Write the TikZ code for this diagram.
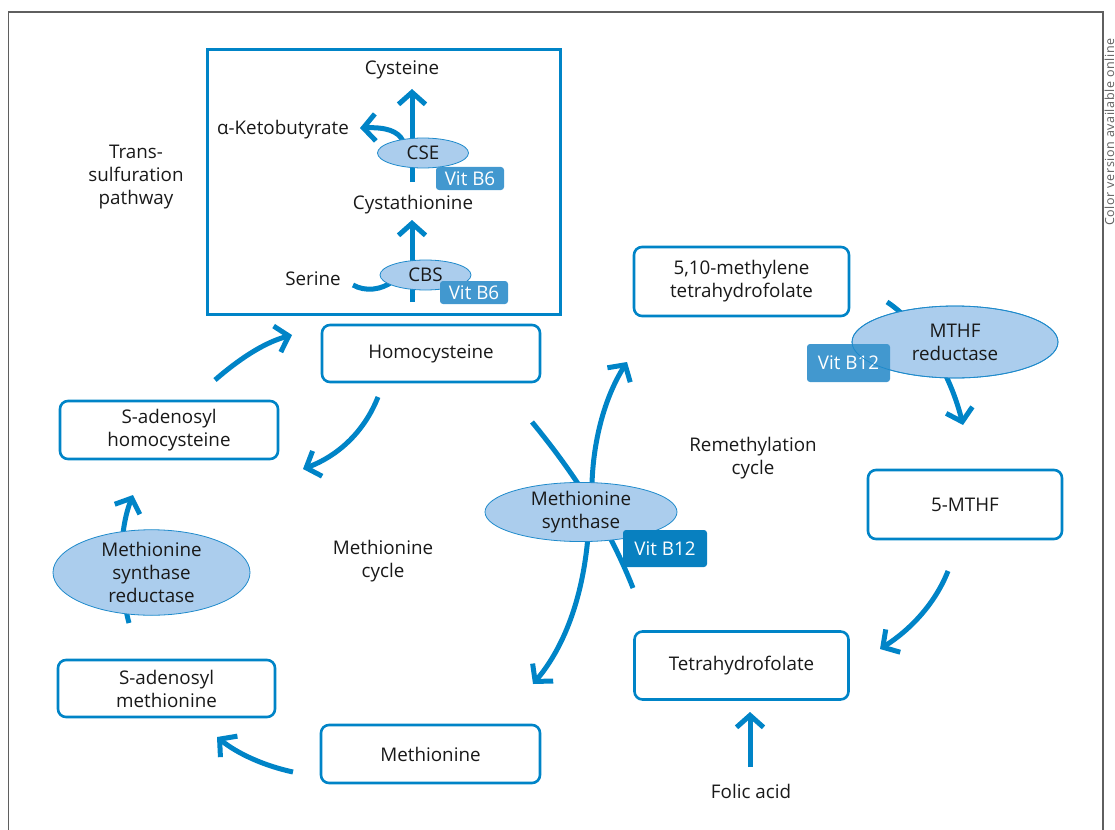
\documentclass[tikz,border=0pt]{standalone}
\usepackage{fontspec}
\setmainfont{Open Sans}
\usetikzlibrary{arrows.meta,shapes.geometric}
\definecolor{mblue}{RGB}{0,132,199}
\definecolor{efill}{RGB}{171,205,237}
\definecolor{eline}{RGB}{30,138,203}
\definecolor{vitl}{RGB}{66,152,207}
\definecolor{vitd}{RGB}{8,128,192}
\definecolor{framec}{RGB}{95,95,95}
\definecolor{txt}{RGB}{25,25,25}
\newcommand\mfs{\fontsize{18.8}{23}\selectfont}
\tikzset{
  pbox/.style={draw=mblue, line width=2.6pt, rounded corners=8pt, fill=white, align=center,
    font=\mfs, text=txt, inner sep=0pt},
  enz/.style={ellipse, draw=eline, line width=0.8pt, fill=efill, align=center, font=\mfs,
    text=txt, inner sep=0pt},
  vitbox/.style={fill=vitl, text=white, rounded corners=3pt, inner sep=0pt, font=\mfs},
  lbl/.style={align=center, font=\mfs, text=txt, inner sep=0pt},
  flow/.style={draw=mblue, line width=5pt, -{Straight Barb[length=12pt,width=27pt]}},
  plain/.style={draw=mblue, line width=5pt},
}
\begin{document}
\begin{tikzpicture}[x=1pt,y=-1pt]
\useasboundingbox (0,0) rectangle (1115,829);
% outer frame
\draw[framec, line width=1.6pt] (8.5,835) -- (8.5,12) -- (1103,12) -- (1103,835);
\node[rotate=90, anchor=south west, font=\fontsize{12.5}{15}\selectfont\addfontfeatures{LetterSpace=5}, text=framec, inner sep=0pt] (color) at (1114.5,226) {Color version available online};

% transsulfuration box
\node[draw=mblue, line width=3pt, minimum width=353pt, minimum height=264pt, inner sep=0pt] (ts) at (383.5,182) {};

% metabolite boxes
\node[pbox, minimum width=218pt, minimum height=57pt] (hcy) at (431,353.5) {Homocysteine};
\node[pbox, minimum width=218pt, minimum height=58pt] (sah) at (169,430) {S-adenosyl\\homocysteine};
\node[pbox, minimum width=217pt, minimum height=57pt] (sam) at (166.5,688.5) {S-adenosyl\\methionine};
\node[pbox, minimum width=219pt, minimum height=58pt] (met) at (430.5,754) {Methionine};
\node[pbox, minimum width=215pt, minimum height=69pt] (methf) at (741.5,281.5) {5,10-methylene\\tetrahydrofolate};
\node[pbox, minimum width=194pt, minimum height=69pt] (mthf) at (965,504.5) {5-MTHF};
\node[pbox, minimum width=214pt, minimum height=68pt] (thf) at (741.5,665.5) {Tetrahydrofolate};

% labels
\node[lbl] (cys) at (402,70) {Cysteine};
\node[lbl] (akb) at (283,130) {α-Ketobutyrate};
\node[lbl] (cysta) at (413,205) {Cystathionine};
\node[lbl] (ser) at (313,279) {Serine};
\node[lbl] (trans) at (136,177) {Trans-\\sulfuration\\pathway};
\node[lbl] (metcyc) at (383,561) {Methionine\\cycle};
\node[lbl] (remcyc) at (753,458) {Remethylation\\cycle};
\node[lbl] (folic) at (751,791) {Folic acid};

% connector end points
\coordinate (c1s) at (412,182); \coordinate (c1e) at (412,89);
\coordinate (c2s) at (403,141); \coordinate (c2e) at (360,128);
\coordinate (c3s) at (412,302); \coordinate (c3e) at (412,220);
\coordinate (c4s) at (353,285); \coordinate (c4e) at (393,281);
\coordinate (c5s) at (215,380); \coordinate (c5e) at (292,335);
\coordinate (c6s) at (378,397); \coordinate (c6e) at (303,469);
\coordinate (c7s) at (129,623); \coordinate (c7e) at (133,495);
\coordinate (c8s) at (293,772); \coordinate (c8e) at (217,737);
\coordinate (c9s) at (532,422); \coordinate (c9e) at (633,588);
\coordinate (c10s) at (592,505); \coordinate (c10e) at (627,362);
\coordinate (c11s) at (589,520); \coordinate (c11e) at (533,684);
\coordinate (c12s) at (887,302); \coordinate (c12e) at (963,425);
\coordinate (c13s) at (948,571); \coordinate (c13e) at (880,649);
\coordinate (c14s) at (750,767); \coordinate (c14e) at (750,712);

% connectors
\draw[flow] (c1s) -- (c1e);
\draw[flow] (c2s) .. controls (398,131) and (386,127) .. (c2e);
\draw[flow] (c3s) -- (c3e);
\draw[plain] (c4s) .. controls (365,292) and (382,290) .. (c4e);
\draw[flow] (c5s) .. controls (238,360) and (263,343) .. (c5e);
\draw[flow] (c6s) .. controls (365,430) and (340,455) .. (c6e);
\draw[flow] (c7s) .. controls (118,582) and (119,530) .. (c7e);
\draw[flow] (c8s) .. controls (265,766) and (238,754) .. (c8e);
\draw[plain] (c9s) .. controls (578,478) and (610,530) .. (c9e);
\draw[flow] (c10s) .. controls (590,450) and (603,400) .. (c10e);
\draw[flow] (c11s) .. controls (586,590) and (566,645) .. (c11e);
\draw[flow] (c12s) .. controls (915,320) and (948,365) .. (c12e);
\draw[flow] (c13s) .. controls (935,604) and (910,630) .. (c13e);
\draw[flow] (c14s) -- (c14e);

% enzymes
\node[enz, minimum width=91pt, minimum height=30pt] (cse) at (423,153) {CSE};
\node[enz, minimum width=91pt, minimum height=30pt] (cbs) at (425.5,275) {CBS};
\node[enz, minimum width=197pt, minimum height=69pt] (msr) at (151.5,572.5) {Methionine\\synthase\\reductase};
\node[enz, minimum width=192pt, minimum height=54pt] (ms) at (581,512) {Methionine\\synthase};
\node[enz, minimum width=206pt, minimum height=72pt] (mthfr) at (955,342) {MTHF\\reductase};

% vitamins
\node[vitbox, minimum width=68pt, minimum height=23pt] (b6a) at (470,178.5) {Vit B6};
\node[vitbox, minimum width=68pt, minimum height=23pt] (b6b) at (474,292.5) {Vit B6};
\node[vitbox, fill=vitd, minimum width=84pt, minimum height=37pt] (b12a) at (665,548.5) {Vit B12};
\node[vitbox, minimum width=83pt, minimum height=38pt] (b12b) at (848.5,363) {Vit B12};
\draw[eline, line width=0.8pt] (mthfr.center) ellipse [x radius=103pt, y radius=36pt];
\end{tikzpicture}
\end{document}
